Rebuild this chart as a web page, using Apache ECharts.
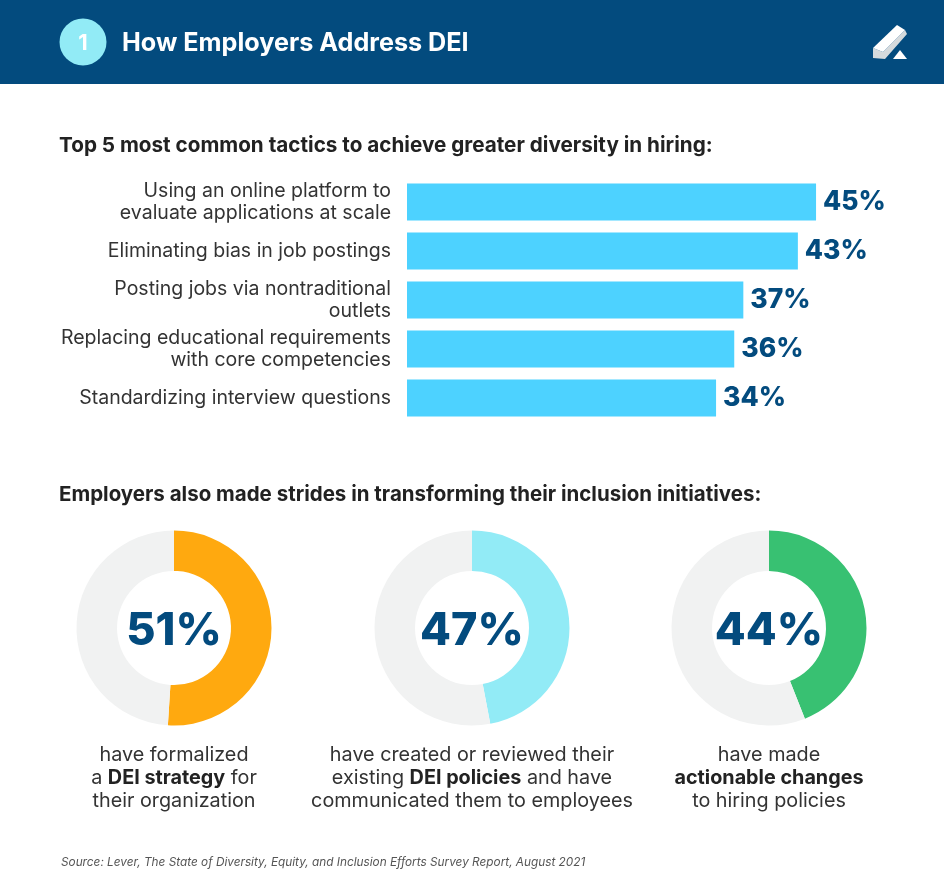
<!DOCTYPE html>
<html>
<head>
<meta charset="utf-8">
<style>html,body{margin:0;padding:0;background:#fff}#chart{width:944px;height:882px}</style>
<script src="https://cdn.jsdelivr.net/npm/echarts@6/dist/echarts.min.js"></script>
</head>
<body>
<div id="chart"></div>
<script>
// bar section
const tactics = [
  'Using an online platform to\nevaluate applications at scale',
  'Eliminating bias in job postings',
  'Posting jobs via nontraditional\noutlets',
  'Replacing educational requirements\nwith core competencies',
  'Standardizing interview questions'
];
const tacticValues = [45, 43, 37, 36, 34];

// donut section
const donutValues = [51, 47, 44];
const donutColors = ['#ffa90f', '#92ebf6', '#38c172'];
const donutCaptions = [
  'have formalized\na {b|DEI strategy} for\ntheir organization',
  'have created or reviewed their\nexisting {b|DEI policies} and have\ncommunicated them to employees',
  'have made\n{b|actionable changes}\nto hiring policies'
];
const donutCenters = [174, 472, 769];

const NAVY = '#034b7e';
const BODY = 'Inter, "Noto Sans", sans-serif';

const chart = echarts.init(document.getElementById('chart'), null, { renderer: 'canvas' });

const donutSeries = donutValues.map((v, i) => ({
  type: 'pie',
  center: [donutCenters[i], 628],
  radius: [57, 97.5],
  startAngle: 90,
  clockwise: true,
  silent: true,
  animation: false,
  label: { show: false },
  labelLine: { show: false },
  data: [
    { value: v, itemStyle: { color: donutColors[i] } },
    { value: 100 - v, itemStyle: { color: '#f1f2f2' } }
  ]
}));

const titles = [
  { text: 'How Employers Address DEI', left: 122, top: 31, padding: 0, textStyle: { color: '#fff', fontFamily: BODY, fontSize: 25.2, fontWeight: 700 } },
  { text: '1', left: 83, top: 43, padding: 0, textAlign: 'center', textVerticalAlign: 'middle', textStyle: { color: '#fff', fontFamily: BODY, fontSize: 22, fontWeight: 700 } },
  { text: 'Top 5 most common tactics to achieve greater diversity in hiring:', left: 59, top: 135, padding: 0, textStyle: { color: '#222', fontFamily: BODY, fontSize: 20.7, fontWeight: 700 } },
  { text: 'Employers also made strides in transforming their inclusion initiatives:', left: 59, top: 484, padding: 0, textStyle: { color: '#222', fontFamily: BODY, fontSize: 20.5, fontWeight: 700 } },
  { text: 'Source: Lever, The State of Diversity, Equity, and Inclusion Efforts Survey Report, August 2021', left: 61, top: 856, padding: 0, textStyle: { color: '#555', fontFamily: BODY, fontSize: 11.8, fontWeight: 400, fontStyle: 'italic' } }
];
donutValues.forEach((v, i) => {
  titles.push({
    text: v + '%', left: donutCenters[i], top: 631, padding: 0, textAlign: 'center', textVerticalAlign: 'middle',
    textStyle: { color: NAVY, fontFamily: BODY, fontSize: 45, fontWeight: 800 }
  });
  titles.push({
    text: donutCaptions[i], left: donutCenters[i], top: 744, padding: 0, textAlign: 'center',
    textStyle: {
      color: '#333', fontFamily: BODY, fontSize: 19.8, fontWeight: 400, lineHeight: 23,
      rich: { b: { fontFamily: BODY, fontSize: 19.8, fontWeight: 700, color: '#222', lineHeight: 23 } }
    }
  });
});

chart.setOption({
  animation: false,
  backgroundColor: '#fff',
  title: titles,
  grid: { left: 407, top: 177.5, width: 454.5, height: 245 },
  xAxis: { type: 'value', min: 0, max: 50, show: false },
  yAxis: {
    type: 'category',
    inverse: true,
    data: tactics,
    axisLine: { show: false },
    axisTick: { show: false },
    axisLabel: { color: '#333', fontFamily: BODY, fontSize: 19.5, lineHeight: 22, margin: 16, align: 'right', padding: [6, 0, 0, 0] }
  },
  graphic: [
    { type: 'rect', z: -1, shape: { x: 0, y: 0, width: 944, height: 84 }, style: { fill: NAVY } },
    { type: 'circle', z: -1, shape: { cx: 83, cy: 42, r: 23.5 }, style: { fill: '#92ebf6' } },
    // logo
    { type: 'polygon', z: 1, shape: { points: [[873, 48], [883, 52], [905, 30], [907, 34], [885, 59], [873, 58]] }, style: { fill: '#d5dadd' } },
    { type: 'polygon', z: 1, shape: { points: [[873, 48], [897, 25], [905, 30], [883, 52]] }, style: { fill: '#fff' } },
    { type: 'polygon', z: 1, shape: { points: [[893, 59], [900, 50], [907, 59]] }, style: { fill: '#fff' } }
  ],
  series: [
    {
      type: 'bar',
      data: tacticValues,
      barWidth: 37,
      itemStyle: { color: '#4dd2ff' },
      silent: true,
      label: {
        show: true, position: 'right', distance: 7, formatter: '{c}%',
        color: NAVY, fontFamily: BODY, fontSize: 26.5, fontWeight: 800
      }
    },
    ...donutSeries
  ]
});
</script>
</body>
</html>
